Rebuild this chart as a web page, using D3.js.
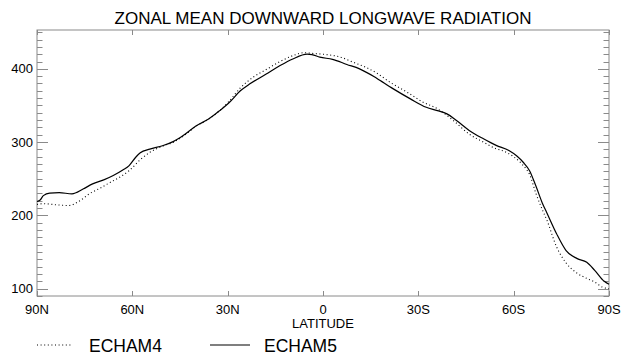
<!DOCTYPE html>
<html>
<head>
<meta charset="utf-8">
<script src="https://cdn.jsdelivr.net/npm/d3@7"></script>
<style>
  html, body { margin: 0; padding: 0; background: #fff; }
  svg text { font-family: "Liberation Sans", Arial, Helvetica, sans-serif; fill: #000; }
</style>
</head>
<body>
<svg id="chart" width="621" height="354"></svg>
<script>
// ---- data ----
const titleText = "ZONAL MEAN DOWNWARD LONGWAVE RADIATION";
const xTickValues = [90, 60, 30, 0, -30, -60, -90];
const xTickLabels = ["90N", "60N", "30N", "0", "30S", "60S", "90S"];
const yTickValues = [100, 200, 300, 400];
const seriesNames = ["ECHAM4", "ECHAM5"];

const latE5 = [90, 89, 88, 86, 83, 79, 75.5, 72.5, 69, 66, 63, 61, 59, 57.5, 54.5, 50.5, 47, 44, 40, 36, 32.5, 29.5, 26, 23, 18, 13.5, 9.5, 5, 3.5, 1, -3, -7.5, -11.5, -16, -18, -22, -27.5, -32.5, -36, -39, -42, -46, -50.5, -54.5, -58.5, -61, -63, -65, -67, -69, -70.5, -73.5, -76.5, -80, -83, -85.5, -88.5, -90];
const valE5 = [219, 221, 227, 230.5, 231, 229.5, 236, 243, 248.5, 254.5, 262, 268, 279, 285.5, 290.5, 295, 301, 309, 322, 331.5, 343, 354, 370, 379.5, 392.5, 404.5, 413.5, 420, 419.5, 416, 413, 406, 400, 389.5, 384, 373, 359, 347.5, 343, 338.5, 329.5, 316, 304.5, 295.5, 288.5, 281, 272.5, 261, 240, 217, 203, 175, 152, 141, 136, 125, 110, 106];

const latE4 = [90, 88, 84, 80, 76.5, 73.5, 70, 67, 64, 61, 57.5, 54.5, 50.5, 47, 44, 40, 36, 32.5, 29.5, 26, 22, 17.5, 13.5, 9.5, 6, 3, -1, -5.5, -9.5, -13.5, -17, -21, -26.5, -31.5, -36, -41, -46, -50.5, -54.5, -56, -60, -62.5, -64, -65, -67, -69, -70.5, -73.5, -76.5, -80, -83, -85.5, -88, -90];
const valE4 = [215, 216, 214.5, 213.5, 220, 229.5, 237.5, 245, 252, 261, 276, 286, 294.5, 300, 308, 321.5, 331.5, 343, 356, 374, 388.5, 400, 410, 418, 422, 421, 419.5, 416, 409, 402, 394, 382, 368, 354.5, 345.5, 329.5, 311, 300, 291, 289, 280, 270.5, 263, 256, 230, 208, 193, 157, 135, 121, 114, 109, 102, 100];

// ---- layout ----
const svg = d3.select("#chart");
const L = 37, R = 609, T = 30, B = 296;
const x = d3.scaleLinear().domain([90, -90]).range([L, R]);
const y = d3.scaleLinear().domain([90, 453]).range([B, T]);
const frameColor = "#8a8a8a";

// title
svg.append("text").attr("x", 323).attr("y", 24).attr("text-anchor", "middle")
  .style("font-size", "17px").text(titleText);

// frame
svg.append("rect").attr("x", L).attr("y", T).attr("width", R - L).attr("height", B - T)
  .attr("fill", "none").attr("stroke", frameColor).attr("stroke-width", 1);

// y ticks (minor every 10, major every 100) on both sides, inward
const yMinor = d3.range(90, 454, 10);
const g = svg.append("g").attr("stroke", frameColor).attr("stroke-width", 1);
yMinor.forEach(v => {
  const major = v % 100 === 0;
  const len = major ? 11 : 5.5;
  const yy = Math.round(y(v)) + 0.5;
  g.append("line").attr("x1", L).attr("x2", L + len).attr("y1", yy).attr("y2", yy);
  g.append("line").attr("x1", R).attr("x2", R - len).attr("y1", yy).attr("y2", yy);
});
// x ticks top and bottom, inward
xTickValues.forEach(v => {
  const xx = Math.round(x(v)) + 0.5;
  g.append("line").attr("x1", xx).attr("x2", xx).attr("y1", B).attr("y2", B - 5);
  g.append("line").attr("x1", xx).attr("x2", xx).attr("y1", T).attr("y2", T + 5);
});

// y labels
yTickValues.forEach(v => {
  svg.append("text").attr("x", 33).attr("y", y(v)).attr("dy", "0.35em")
    .attr("text-anchor", "end").style("font-size", "13px").text(v);
});
// x labels
xTickValues.forEach((v, i) => {
  svg.append("text").attr("x", x(v)).attr("y", 313.5).attr("text-anchor", "middle")
    .style("font-size", "13px").text(xTickLabels[i]);
});
svg.append("text").attr("x", x(0)).attr("y", 328).attr("text-anchor", "middle")
  .style("font-size", "13px").text("LATITUDE");

// lines
const line = d3.line().x(d => x(d[0])).y(d => y(d[1])).curve(d3.curveMonotoneX);
const dataE4 = latE4.map((l, i) => [l, valE4[i]]);
const dataE5 = latE5.map((l, i) => [l, valE5[i]]);

svg.append("path").datum(dataE4).attr("d", line).attr("fill", "none")
  .attr("stroke", "#000").attr("stroke-width", 1.1).attr("stroke-dasharray", "1,2.6");
svg.append("path").datum(dataE5).attr("d", line).attr("fill", "none")
  .attr("stroke", "#000").attr("stroke-width", 1.2);

// legend
svg.append("line").attr("x1", 37).attr("x2", 73).attr("y1", 345).attr("y2", 345)
  .attr("stroke", "#000").attr("stroke-width", 1.1).attr("stroke-dasharray", "1,2.6");
svg.append("text").attr("x", 89).attr("y", 351.5).style("font-size", "17.5px").text(seriesNames[0]);
svg.append("line").attr("x1", 210).attr("x2", 250).attr("y1", 345).attr("y2", 345)
  .attr("stroke", "#000").attr("stroke-width", 1.2);
svg.append("text").attr("x", 264).attr("y", 351.5).style("font-size", "17.5px").text(seriesNames[1]);
</script>
</body>
</html>
